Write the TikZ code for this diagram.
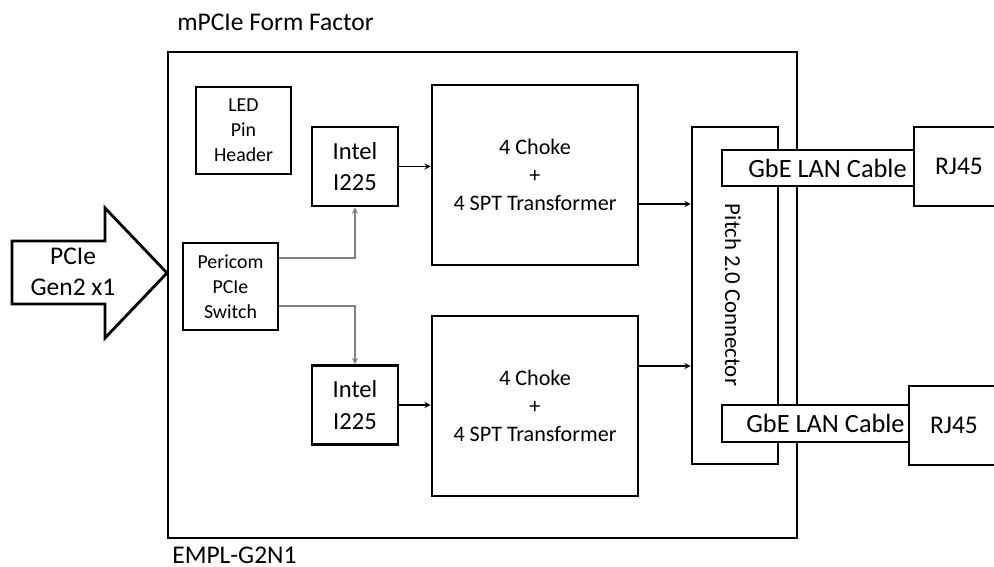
\documentclass[tikz,border=0pt]{standalone}
\usepackage{fontspec}
\setmainfont{Carlito}
\begin{document}
\begin{tikzpicture}[x=0.02cm, y=-0.02cm, >=stealth,
        box/.style={draw, line width=1.6pt, inner sep=0pt, align=center},
        lnk/.style={->, line width=0.6pt},
        glnk/.style={->, line width=0.6pt, draw=gray}]
        \clip (0,0) rectangle (994,567);

        % Rahmen (Form Factor)
        \node[box, minimum width=12.58cm, minimum height=9.72cm] (ff) at (482.5,295) {};
        \node[anchor=base west, inner sep=0pt, font=\fontsize{14.5}{17}\selectfont] (fftitle) at (177,31) {mPCIe Form Factor};
        \node[anchor=base west, inner sep=0pt, font=\fontsize{14.5}{17}\selectfont] (board) at (172,563) {EMPL-G2N1};

        % Eingang PCIe
        \draw[line width=1.6pt] (12,241) -- (105,241) -- (105,208) -- (167,273) -- (105,338) -- (105,304) -- (12,304) -- cycle;
        \node[align=center, inner sep=0pt, font=\fontsize{14.5}{17.6}\selectfont] (pcie) at (73,272) {PCIe\\Gen2 x1};

        % Bausteine
        \node[box, minimum width=1.9cm, minimum height=1.74cm, font=\fontsize{11.3}{14.2}\selectfont] (led) at (243.5,130.5) {LED\\Pin\\Header};
        \node[box, minimum width=1.9cm, minimum height=1.74cm, font=\fontsize{11.3}{14.2}\selectfont] (sw) at (230.5,286.5) {Pericom\\PCIe\\Switch};
        \node[box, minimum width=1.72cm, minimum height=1.58cm, font=\fontsize{14}{18}\selectfont] (i1) at (355,166.5) {Intel\\I225};
        \node[box, minimum width=1.72cm, minimum height=1.58cm, font=\fontsize{14}{18}\selectfont] (i2) at (355,405) {Intel\\I225};
        \node[box, minimum width=4.12cm, minimum height=3.6cm, font=\fontsize{12.6}{16}\selectfont] (ch1) at (535,175) {4 Choke\\+\\4 SPT Transformer};
        \node[box, minimum width=4.12cm, minimum height=3.6cm, font=\fontsize{12.6}{16}\selectfont] (ch2) at (535,406) {4 Choke\\+\\4 SPT Transformer};

        % Stecker und Kabel
        \node[box, minimum width=1.72cm, minimum height=6.74cm] (pitch) at (735,295.5) {};
        \node[rotate=-90, inner sep=0pt, font=\fontsize{13}{15}\selectfont] (pitchtxt) at (733,295) {Pitch 2.0 Connector};
        \node[box, fill=white, minimum width=3.84cm, minimum height=0.72cm, font=\fontsize{15}{18}\selectfont] (cab1) at (818,168) {\hspace*{0.38cm}GbE LAN Cable};
        \node[box, fill=white, minimum width=3.74cm, minimum height=0.74cm, font=\fontsize{15}{18}\selectfont] (cab2) at (815.5,423.5) {\hspace*{0.4cm}GbE LAN Cable};
        \node[box, fill=white, minimum width=1.8cm, minimum height=1.58cm, font=\fontsize{14.5}{17}\selectfont] (rj1) at (959,166.5) {RJ45};
        \node[box, fill=white, minimum width=1.8cm, minimum height=1.58cm, font=\fontsize{14.5}{17}\selectfont] (rj2) at (954,425.5) {RJ45};

        % Verbindungen
        \draw[glnk] (sw.east |- 0,258) -| (i1.south);
        \draw[glnk] (sw.east |- 0,306) -| (i2.north);
        \draw[lnk] (i1.east) -- (i1.east -| ch1.west);
        \draw[lnk] (i2.east) -- (i2.east -| ch2.west);
        \draw[lnk] (ch1.east |- 0,204) -- (pitch.west |- 0,204);
        \draw[lnk] (ch2.east |- 0,366) -- (pitch.west |- 0,366);

    \end{tikzpicture}
\end{document}
